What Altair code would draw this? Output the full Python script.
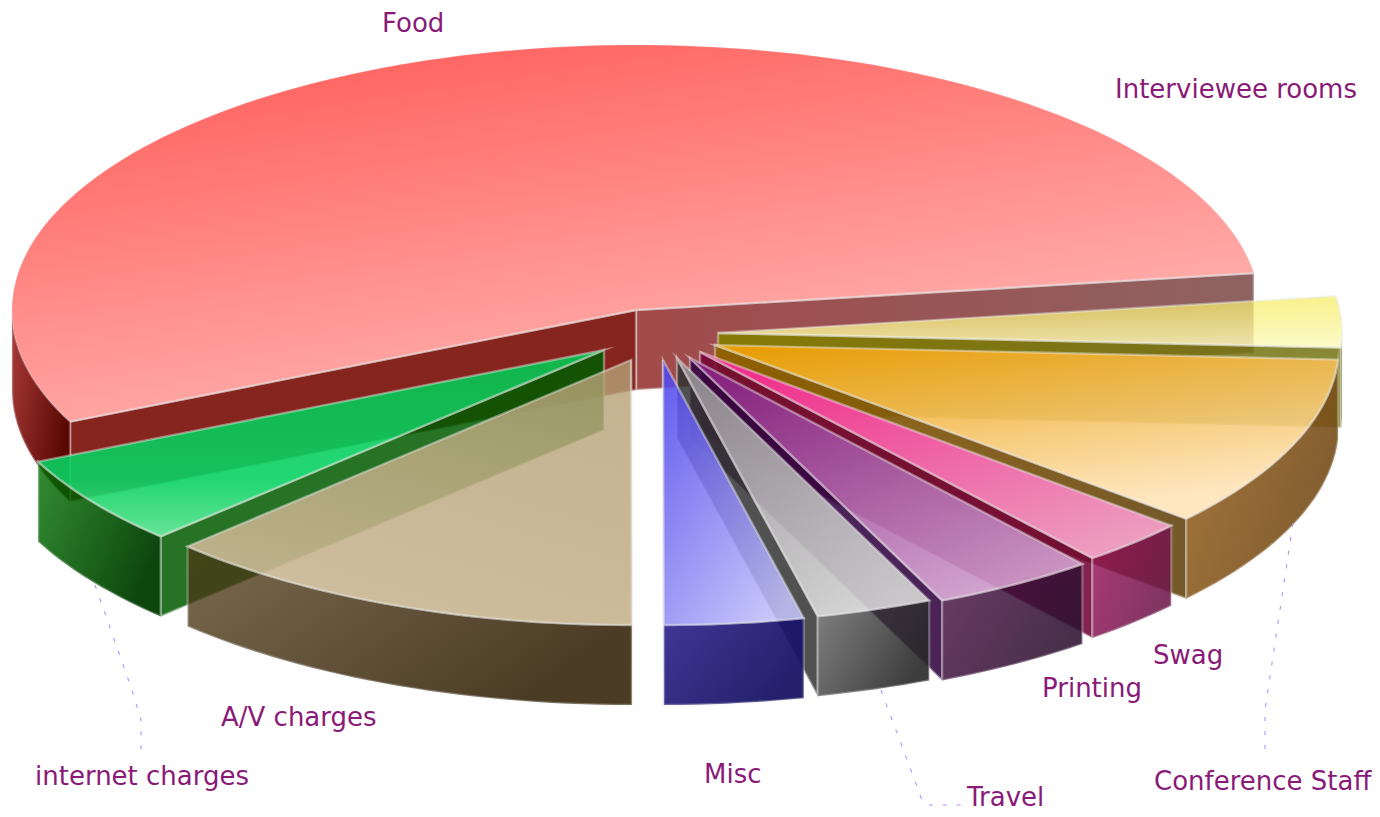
import math
import altair as alt
import pandas as pd

# ---- data (share of the whole, in percent) ----
slices = ["Food", "internet charges", "A/V charges", "Misc", "Travel",
          "Printing", "Swag", "Conference Staff", "Interviewee rooms"]
shares = [54.7, 5.5, 12.6, 3.6, 3.0, 4.2, 2.8, 10.5, 3.1]

label_x = [382, 35, 221, 704, 967, 1042, 1153, 1154, 1115]
label_y = [32, 785, 726, 783, 806, 697, 664, 790, 98]

# ---- projection of the tilted pie ----
CX, CY, RX, RY, DEPTH = 636, 310, 624, 265, 80
START = 8.0
explode_x = [0, -32, -5, 27, 41, 54, 64, 79, 82]
explode_y = [0, 40, 50, 50, 48, 48, 42, 35, 23]

DIAG_R = dict(x1=0, y1=0, x2=0.8, y2=1)
DIAG_L = dict(x1=1, y1=0, x2=0.5, y2=1)
RIM = dict(x1=0, y1=0, x2=1, y2=0.5)
HORIZ = dict(x1=0, y1=0, x2=1, y2=0)


def grad(c0, c1, d):
    return {"gradient": "linear", "stops": [{"offset": 0, "color": c0}, {"offset": 1, "color": c1}], **d}


top_fill = {
    "Food": grad("rgb(255,92,88)", "rgb(255,185,183)", dict(x1=0.1, y1=0, x2=0.6, y2=1)),
    "internet charges": {"gradient": "linear", "x1": 0.5, "y1": 0, "x2": 0.5, "y2": 1, "stops": [
        {"offset": 0, "color": "rgba(0,200,80,0.88)"},
        {"offset": 0.7, "color": "rgba(10,210,100,0.9)"},
        {"offset": 1, "color": "rgba(90,225,140,0.92)"}]},
    "A/V charges": grad("rgba(180,160,115,0.8)", "rgba(202,183,148,0.92)", DIAG_L),
    "Misc": grad("rgba(75,65,235,0.88)", "rgba(195,195,250,0.88)", DIAG_R),
    "Travel": grad("rgba(140,135,140,0.95)", "rgba(212,212,212,0.92)", DIAG_R),
    "Printing": grad("rgba(130,25,125,0.95)", "rgba(208,160,205,0.9)", DIAG_R),
    "Swag": grad("rgba(245,30,140,0.95)", "rgba(243,160,200,0.95)", DIAG_R),
    "Conference Staff": grad("rgba(232,155,0,1)", "rgba(254,226,180,0.85)", dict(x1=0, y1=0, x2=0.45, y2=1)),
    "Interviewee rooms": grad("rgba(245,235,90,0.7)", "rgba(252,250,190,0.85)", dict(x1=0.5, y1=0, x2=0.6, y2=1)),
}
rim_fill = {
    "Food": grad("rgba(170,60,58,1)", "rgba(90,8,2,1)", RIM),
    "internet charges": grad("rgba(0,110,0,0.8)", "rgba(0,60,0,0.95)", RIM),
    "A/V charges": grad("rgba(75,55,20,0.75)", "rgba(65,50,25,0.95)", RIM),
    "Misc": grad("rgba(30,20,130,0.85)", "rgba(25,20,100,0.95)", RIM),
    "Travel": grad("rgba(60,60,60,0.65)", "rgba(40,40,40,0.9)", RIM),
    "Printing": grad("rgba(70,10,65,0.8)", "rgba(45,18,48,0.88)", RIM),
    "Swag": grad("rgba(150,10,85,0.8)", "rgba(110,25,75,0.88)", RIM),
    "Conference Staff": grad("rgba(150,95,25,0.85)", "rgba(115,75,25,0.9)", RIM),
    "Interviewee rooms": grad("rgba(120,120,20,0.85)", "rgba(120,120,50,0.85)", RIM),
}
# wall seen from the front for each slice: (start or end angle, fill)
wall_fill = {
    "internet charges": ("end", "rgba(0,90,0,0.85)"),
    "A/V charges": ("end", "rgba(100,85,50,0.9)"),
    "Misc": ("start", "rgba(70,60,170,0.8)"),
    "Travel": ("start", "rgba(50,50,50,0.85)"),
    "Printing": ("start", "rgba(50,5,65,0.88)"),
    "Swag": ("start", "rgba(115,5,55,0.88)"),
    "Conference Staff": ("start", grad("rgba(145,95,0,0.92)", "rgba(105,75,25,0.92)", HORIZ)),
    "Interviewee rooms": ("start", grad("rgba(130,125,0,0.92)", "rgba(115,115,20,0.85)", HORIZ)),
}
FOOD_LEFT = "rgba(134,36,30,1)"
FOOD_RIGHT = grad("rgba(160,70,70,0.98)", "rgba(140,95,95,0.98)", HORIZ)

x_scale = alt.Scale(domain=[8, 1372], nice=False, zero=False)
y_scale = alt.Scale(domain=[812, 8], nice=False, zero=False)


def rim_point(a, ox, oy, drop=0.0):
    r = math.radians(a)
    return (CX + ox + RX * math.cos(r), CY + oy - RY * math.sin(r) + drop)


def arc(a0, a1, ox, oy, drop=0.0):
    n = max(2, int(abs(a1 - a0) / 1.5) + 1)
    return [rim_point(a0 + (a1 - a0) * i / n, ox, oy, drop) for i in range(n + 1)]


def encode_xy(chart):
    return chart.encode(
        x=alt.X("x:Q", scale=x_scale, axis=None),
        y=alt.Y("y:Q", scale=y_scale, axis=None),
        order=alt.Order("i:Q"),
    )


def frame(points):
    return pd.DataFrame({"x": [p[0] for p in points], "y": [p[1] for p in points], "i": range(len(points))})


def face(points, fill, stroke="rgba(235,235,235,0.42)", sw=2.4):
    p0, p1 = points[0], points[1]
    mid = ((p0[0] + p1[0]) / 2, (p0[1] + p1[1]) / 2)
    loop = [mid] + points[1:] + [points[0], mid]
    return encode_xy(alt.Chart(frame(loop)).mark_line(
        fill=fill, stroke=stroke, strokeWidth=sw, strokeJoin="miter", strokeMiterLimit=14, clip=False
    ))


angles = {}
a = START
for name, share, ox, oy in zip(slices, shares, explode_x, explode_y):
    angles[name] = (a, a + share * 3.6, ox, oy)
    a += share * 3.6

layers = []


def wall(a_, ox, oy, fill):
    apex = (CX + ox, CY + oy)
    r = rim_point(a_, ox, oy)
    return face([apex, r, (r[0], r[1] + DEPTH), (apex[0], apex[1] + DEPTH)], fill)


def rim(a0, a1, ox, oy, fill):
    return face(arc(a0, a1, ox, oy) + arc(a1, a0, ox, oy, DEPTH), fill, stroke="rgba(235,235,235,0.3)")


# Food: both cut faces and the visible stretch of rim; its back edge is almost unstroked
a0, a1, ox, oy = angles["Food"]
layers.append(wall(a0, ox, oy, FOOD_RIGHT))
layers.append(wall(a1, ox, oy, FOOD_LEFT))
layers.append(rim(180, a1, ox, oy, rim_fill["Food"]))
layers.append(face([(CX, CY)] + arc(a0, a1, ox, oy), top_fill["Food"], stroke="rgba(235,235,235,0.15)", sw=1.5))
layers.append(encode_xy(alt.Chart(frame([rim_point(a0, ox, oy), (CX, CY), rim_point(a1, ox, oy)])).mark_line(
    stroke="rgba(235,235,235,0.45)", strokeWidth=2.4)))

for name in ["Interviewee rooms", "Conference Staff", "Swag", "Printing", "Travel", "Misc",
             "internet charges", "A/V charges"]:
    a0, a1, ox, oy = angles[name]
    side, fill = wall_fill[name]
    layers.append(wall(a0 if side == "start" else a1, ox, oy, fill))
    layers.append(rim(a0, min(a1, 360.0), ox, oy, rim_fill[name]))
    layers.append(face([(CX + ox, CY + oy)] + arc(a0, a1, ox, oy), top_fill[name],
                       stroke="rgba(235,235,235,0.45)"))

# leader lines
leader_lines = [
    [(95, 585), (132, 690), (141, 720), (141, 752)],
    [(1293, 523), (1265, 710), (1265, 757)],
    [(881, 690), (922, 800), (928, 805), (965, 805)],
]
for pts in leader_lines:
    layers.append(encode_xy(alt.Chart(frame(pts)).mark_line(
        stroke="#b98cff", strokeWidth=1.1, strokeDash=[4, 10])))

labels_df = pd.DataFrame({"label": slices, "x": label_x, "y": label_y})
layers.append(
    alt.Chart(labels_df).mark_text(
        align="left", baseline="alphabetic", font="DejaVu Sans", fontSize=26, color="#8a1a78"
    ).encode(
        x=alt.X("x:Q", scale=x_scale, axis=None),
        y=alt.Y("y:Q", scale=y_scale, axis=None),
        text="label:N",
    )
)

chart = alt.layer(*layers).properties(
    width=1364, height=804, padding=0, autosize=alt.AutoSizeParams(type="none"), background="white"
).configure_view(stroke=None)

chart.save("out.html", embed_options={"renderer": "svg", "actions": False})
